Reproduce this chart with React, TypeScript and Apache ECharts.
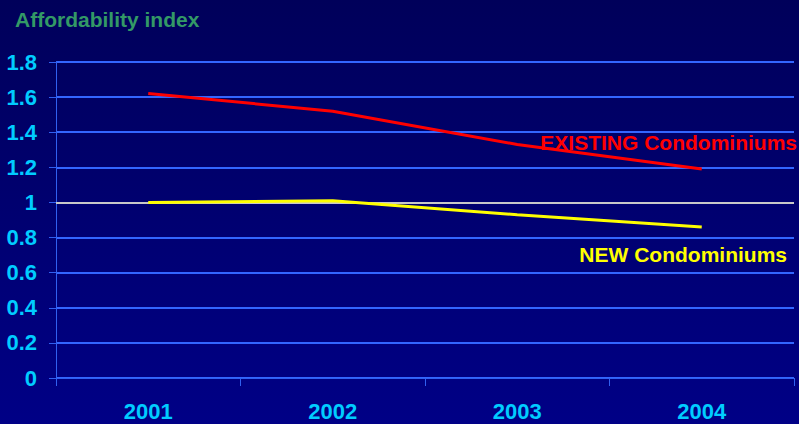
import React, { useEffect, useRef } from "react";
import * as echarts from "echarts";

const years = ["2001", "2002", "2003", "2004"];
const existing = [1.62, 1.52, 1.33, 1.19];
const newCondo = [1.0, 1.01, 0.93, 0.86];
const yTicks = { min: 0, max: 1.8, interval: 0.2 };

export default function App() {
  const ref = useRef<HTMLDivElement>(null);
  useEffect(() => {
    const chart = echarts.init(ref.current!, null, { renderer: "svg" });
    const font = "'Liberation Sans', Arial, sans-serif";
    chart.setOption({
      animation: false,
      backgroundColor: new echarts.graphic.LinearGradient(0, 0, 0, 1, [
        { offset: 0, color: "#00005a" },
        { offset: 1, color: "#000086" },
      ]),
      grid: { left: 56, right: 5, top: 62, bottom: 46 },
      title: {
        text: "Affordability index",
        left: 10,
        top: 4,
        textStyle: { color: "#339966", fontSize: 21, fontWeight: "bold", fontFamily: font },
      },
      xAxis: {
        type: "category",
        data: years,
        boundaryGap: true,
        axisLine: { lineStyle: { color: "#3060f0", width: 1 } },
        axisTick: { show: true, length: 8, lineStyle: { color: "#3060f0" } },
        axisLabel: { color: "#00ccff", fontSize: 22, fontWeight: "bold", fontFamily: font, margin: 22 },
        splitLine: { show: false },
      },
      yAxis: {
        type: "value",
        min: yTicks.min,
        max: yTicks.max,
        interval: yTicks.interval,
        axisLine: { show: true, lineStyle: { color: "#3060f0", width: 1 } },
        axisTick: { show: true, length: 7, lineStyle: { color: "#3060f0" } },
        axisLabel: {
          color: "#00ccff",
          fontSize: 22,
          fontWeight: "bold",
          fontFamily: font,
          margin: 19,
          formatter: (v: number) => String(Math.round(v * 10) / 10),
        },
        splitLine: { show: true, lineStyle: { color: "#3366ff", width: 2 } },
      },
      series: [
        {
          name: "NEW Condominiums",
          type: "line",
          data: newCondo,
          symbol: "none",
          lineStyle: { color: "#ffff00", width: 3 },
          z: 3,
          markLine: {
            silent: true,
            symbol: "none",
            label: { show: false },
            lineStyle: { color: "#c8c8c8", width: 2, type: "solid" },
            data: [{ yAxis: 1 }],
            z: 2,
          },
        },
        {
          name: "EXISTING Condominiums",
          type: "line",
          data: existing,
          symbol: "none",
          lineStyle: { color: "#ff0000", width: 3 },
          z: 4,
        },
      ],
      graphic: [
        {
          type: "text",
          right: 2,
          top: 132,
          style: {
            text: "EXISTING Condominiums",
            fill: "#ff0000",
            font: `bold 21px ${font}`,
          },
          z: 10,
        },
        {
          type: "text",
          right: 12,
          top: 244,
          style: {
            text: "NEW Condominiums",
            fill: "#ffff00",
            font: `bold 21px ${font}`,
          },
          z: 10,
        },
      ],
    });
    return () => chart.dispose();
  }, []);
  return <div ref={ref} style={{ width: 799, height: 424, position: "absolute", left: 0, top: 0 }} />;
}
